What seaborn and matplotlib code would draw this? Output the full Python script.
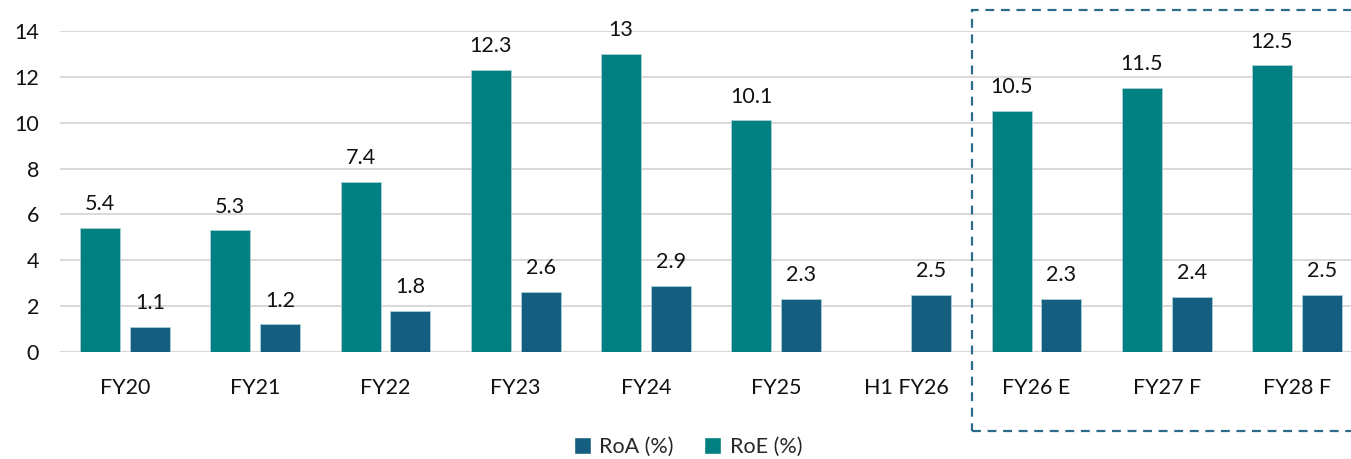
import numpy as np
import pandas as pd
import matplotlib
matplotlib.use("Agg")
import matplotlib.pyplot as plt
from matplotlib.patches import Rectangle, Patch
import seaborn as sns

# Chart data
categories = ["FY20", "FY21", "FY22", "FY23", "FY24", "FY25", "H1 FY26", "FY26 E", "FY27 F", "FY28 F"]
roe_values = [5.4, 5.3, 7.4, 12.3, 13, 10.1, np.nan, 10.5, 11.5, 12.5]
roa_values = [1.1, 1.2, 1.8, 2.6, 2.9, 2.3, 2.5, 2.3, 2.4, 2.5]
series_names = ["RoE (%)", "RoA (%)"]
y_ticks = [0, 2, 4, 6, 8, 10, 12, 14]

ROE_COLOR = "#008080"
ROA_COLOR = "#165E80"
GRID_COLOR = "#D9D9D9"
BOX_COLOR = "#2E6B8A"
FS = 15.5

df = pd.DataFrame({
    "period": categories * 2,
    "series": [series_names[0]] * len(categories) + [series_names[1]] * len(categories),
    "value": roe_values + roa_values,
})

sns.set_theme(style="white")
plt.rcParams["font.family"] = ["Lato", "DejaVu Sans"]

W, H = 1351, 459
fig = plt.figure(figsize=(W / 100, H / 100), dpi=100)
ax_left, ax_right = 60, 1351
ax_top, ax_bottom = 31, 352
ax = fig.add_axes([ax_left / W, (H - ax_bottom) / H, (ax_right - ax_left) / W, (ax_bottom - ax_top) / H])

sns.barplot(
    data=df, x="period", y="value", hue="series",
    hue_order=series_names, order=categories,
    palette=[ROE_COLOR, ROA_COLOR], saturation=1, width=0.768, gap=0.2,
    edgecolor="#A9CFD6", linewidth=0.6,
    legend=False, ax=ax, errorbar=None,
)

# Value labels above each bar
for container in ax.containers:
    labels = []
    for bar in container:
        h = bar.get_height()
        labels.append("" if np.isnan(h) else f"{h:g}")
    ax.bar_label(container, labels=labels, padding=10, fontsize=FS, color="#111111", clip_on=False)

group_px = 130.2
ax.set_xlim(-0.5, -0.5 + (ax_right - ax_left) / group_px)
ax.set_ylim(0, 14)
ax.set_yticks(y_ticks)
ax.set_yticklabels([str(t) for t in y_ticks])
ax.yaxis.grid(True, color=GRID_COLOR, linewidth=1.4)
ax.set_axisbelow(True)
for s in ax.spines.values():
    s.set_visible(False)
ax.axhline(0, color=GRID_COLOR, linewidth=1.6, zorder=0.5)
ax.tick_params(axis="y", length=0, pad=15, labelsize=FS, labelcolor="#111111")
ax.tick_params(axis="x", length=0, pad=19, labelsize=FS, labelcolor="#111111")
ax.set_xlabel("")
ax.set_ylabel("")

# Legend below the plot (RoA listed first)
handles = [Patch(facecolor=ROA_COLOR, label="RoA (%)"), Patch(facecolor=ROE_COLOR, label="RoE (%)")]
fig.legend(handles=handles, loc="center", bbox_to_anchor=(688 / W, 1 - 447 / H), ncol=2,
           frameon=False, fontsize=FS, handlelength=0.8, handleheight=0.8,
           handletextpad=0.4, columnspacing=1.4)

# Dashed box around the projection years
box_l, box_t, box_b = 972, 10, 431
rect = Rectangle((box_l / W, 1 - box_b / H), (W + 20 - box_l) / W, (box_b - box_t) / H,
                 transform=fig.transFigure, fill=False, edgecolor=BOX_COLOR,
                 linewidth=1.6, linestyle=(0, (4, 3)), clip_on=False)
fig.patches.append(rect)

fig.savefig("out.png", dpi=100, facecolor="white")
